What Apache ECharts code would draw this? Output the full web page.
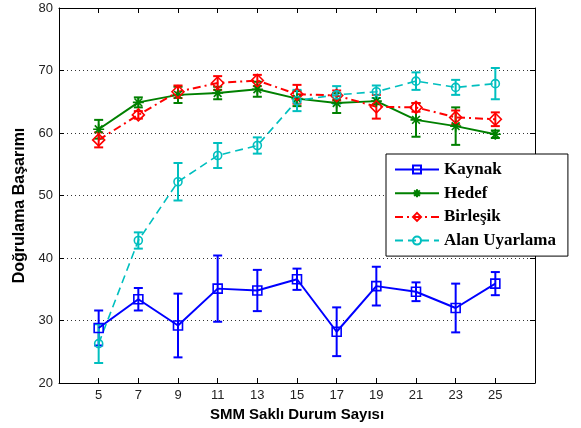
<!DOCTYPE html>
<html>
<head>
<meta charset="utf-8">
<script src="https://cdn.jsdelivr.net/npm/echarts@6/dist/echarts.min.js"></script>
<style>
html,body{margin:0;padding:0;background:#fff;}
#c{width:581px;height:428px;}
</style>
</head>
<body>
<div id="c"></div>
<script>
// ---- data ----
var xValues = [5, 7, 9, 11, 13, 15, 17, 19, 21, 23, 25];
var kaynak     = [28.8, 33.4, 29.2, 35.1, 34.8, 36.6, 28.2, 35.5, 34.6, 32.0, 35.9];
var kaynakErr  = [2.8, 1.8, 5.1, 5.3, 3.3, 1.7, 3.9, 3.1, 1.5, 3.9, 1.85];
var hedef      = [60.6, 64.9, 66.1, 66.4, 67.0, 65.5, 64.8, 65.1, 62.1, 61.1, 59.8];
var hedefErr   = [1.5, 0.8, 1.3, 1.0, 1.2, 1.2, 1.6, 0.5, 2.7, 3.0, 0.6];
var birlesik    = [58.9, 62.9, 66.6, 68.0, 68.4, 66.2, 66.0, 64.2, 64.1, 62.5, 62.2];
var birlesikErr = [1.2, 0.6, 1.0, 1.1, 0.9, 1.5, 0.8, 1.9, 0.7, 1.1, 1.1];
var alan       = [26.3, 42.8, 52.2, 56.4, 58.0, 65.2, 66.1, 66.6, 68.3, 67.3, 67.9];
var alanErr    = [3.1, 1.3, 3.0, 2.0, 1.3, 1.7, 1.4, 1.0, 1.4, 1.2, 2.5];
var yTicks = [20, 30, 40, 50, 60, 70, 80];
var seriesNames = ['Kaynak', 'Hedef', 'Birleşik', 'Alan Uyarlama'];

var asterisk = 'path://M0,-1L0,1M-1,0L1,0M-0.7,-0.7L0.7,0.7M-0.7,0.7L0.7,-0.7';

function pts(vals) { return xValues.map(function (x, i) { return [x, vals[i]]; }); }
function bars(vals, errs) { return xValues.map(function (x, i) { return [x, vals[i] - errs[i], vals[i] + errs[i]]; }); }

function errSeries(vals, errs, color) {
  return {
    type: 'custom',
    silent: true,
    data: bars(vals, errs),
    encode: { x: 0, y: [1, 2] },
    renderItem: function (params, api) {
      var lo = api.coord([api.value(0), api.value(1)]);
      var hi = api.coord([api.value(0), api.value(2)]);
      var w = 4.5;
      var st = { stroke: color, lineWidth: 2 };
      return {
        type: 'group',
        children: [
          { type: 'line', shape: { x1: lo[0], y1: lo[1], x2: hi[0], y2: hi[1] }, style: st },
          { type: 'line', shape: { x1: lo[0] - w, y1: lo[1], x2: lo[0] + w, y2: lo[1] }, style: st },
          { type: 'line', shape: { x1: hi[0] - w, y1: hi[1], x2: hi[0] + w, y2: hi[1] }, style: st }
        ]
      };
    }
  };
}

function lineSeries(name, vals, color, symbol, size, dash, width) {
  return {
    name: name,
    type: 'line',
    data: pts(vals),
    symbol: symbol,
    symbolSize: size,
    showAllSymbol: true,
    lineStyle: { color: color, width: width, type: dash },
    itemStyle: { color: 'rgba(0,0,0,0)', borderColor: color, borderWidth: 1.6 },
    emphasis: { disabled: true }
  };
}

var chart = echarts.init(document.getElementById('c'));
var axisCommon = {
  axisLine: { show: true, lineStyle: { color: '#000', width: 1 } },
  axisTick: { show: true, inside: true, length: 5, lineStyle: { color: '#000' } }
};
chart.setOption({
  animation: false,
  backgroundColor: '#fff',
  grid: { left: 59, right: 46, top: 8, bottom: 45 },
  xAxis: [
    Object.assign({
      type: 'value', min: 3, max: 27, interval: 2, position: 'bottom',
      name: 'SMM Saklı Durum Sayısı', nameLocation: 'middle', nameGap: 21,
      nameTextStyle: { fontFamily: 'Liberation Sans, Arial', fontWeight: 'bold', fontSize: 15, color: '#000' },
      axisLabel: {
        margin: 6, fontFamily: 'Liberation Sans, Arial', fontSize: 13, color: '#222',
        formatter: function (v) { return xValues.indexOf(v) >= 0 ? String(v) : ''; }
      },
      splitLine: { show: false }
    }, axisCommon),
    Object.assign({
      type: 'value', min: 3, max: 27, interval: 2, position: 'top',
      axisLabel: { show: false }, splitLine: { show: false }
    }, axisCommon)
  ],
  yAxis: [
    Object.assign({
      type: 'value', min: yTicks[0], max: yTicks[yTicks.length - 1], interval: 10, position: 'left',
      name: 'Doğrulama Başarımı', nameLocation: 'middle', nameGap: 31,
      nameTextStyle: { fontFamily: 'Liberation Sans, Arial', fontWeight: 'bold', fontSize: 16, color: '#000', padding: [0, 20, 0, 0] },
      axisLabel: { margin: 6, fontFamily: 'Liberation Sans, Arial', fontSize: 13, color: '#222' },
      splitLine: { show: true, lineStyle: { color: '#333', width: 1, type: [1, 3] } }
    }, axisCommon),
    Object.assign({
      type: 'value', min: yTicks[0], max: yTicks[yTicks.length - 1], interval: 10, position: 'right',
      axisLabel: { show: false }, splitLine: { show: false }
    }, axisCommon)
  ],
  legend: {
    data: seriesNames,
    orient: 'vertical',
    left: 386, top: 154,
    padding: [7, 12, 7, 8],
    itemWidth: 44, itemHeight: 10, itemGap: 6.7,
    backgroundColor: '#fff',
    borderColor: '#000', borderWidth: 1, borderRadius: 0,
    textStyle: { fontFamily: 'Liberation Serif, Times New Roman', fontWeight: 'bold', fontSize: 17, color: '#000' },
    selectedMode: false
  },
  series: [
    errSeries(kaynak, kaynakErr, '#0000ff'),
    lineSeries('Kaynak', kaynak, '#0000ff', 'rect', 9, 'solid', 2),
    errSeries(hedef, hedefErr, '#008000'),
    lineSeries('Hedef', hedef, '#008000', asterisk, 11, 'solid', 2),
    errSeries(birlesik, birlesikErr, '#ff0000'),
    lineSeries('Birleşik', birlesik, '#ff0000', 'diamond', 12, [8, 4, 2, 4], 2),
    errSeries(alan, alanErr, '#00bfbf'),
    lineSeries('Alan Uyarlama', alan, '#00bfbf', 'circle', 8, [8, 5], 1.6)
  ]
});
</script>
</body>
</html>
